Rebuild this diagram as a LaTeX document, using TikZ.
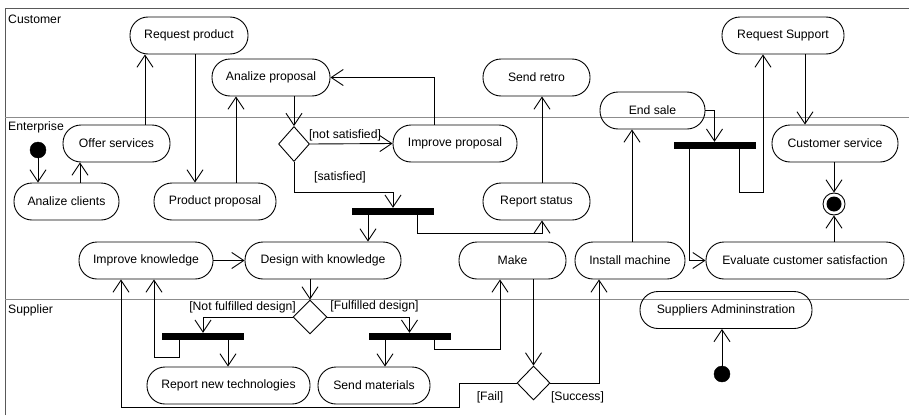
\documentclass[tikz,border=0pt]{standalone}
\usepackage{fontspec}
\setmainfont{Liberation Sans}
\usetikzlibrary{arrows.meta,shapes.geometric}

\tikzset{
  act/.style={draw, line width=0.9pt, rounded corners=18pt, minimum height=37pt,
              inner sep=0pt, font=\fontsize{12.2}{14}\selectfont},
  bar/.style={fill=black, inner sep=0pt, minimum width=82pt, minimum height=7pt},
  decision/.style={draw, diamond, line width=0.9pt, inner sep=0pt},
  startnode/.style={circle, fill=black, draw=black, inner sep=0pt, minimum size=16pt},
  guard/.style={inner sep=0pt, font=\fontsize{12.2}{14}\selectfont},
  lanename/.style={anchor=west, inner sep=0pt, font=\fontsize{12.2}{14}\selectfont},
  arr/.style={line width=0.9pt, -{Straight Barb[length=12pt,width=16pt,line width=0.9pt]}},
  flow/.style={line width=0.9pt},
  frameline/.style={draw=black!65, line width=1pt},
  laneline/.style={draw=black!45, line width=1pt}
}

\begin{document}
\begin{tikzpicture}[x=1pt, y=-1pt]
\useasboundingbox (0,0) rectangle (909,415);

% swimlane frame
\draw[frameline] (5,415) -- (5,8) -- (909,8);
\draw[laneline] (5,117) -- (909,117);
\draw[laneline] (5,299) -- (909,299);
\node[lanename] (lcust) at (8,19) {Customer};
\node[lanename] (lent) at (8,127) {Enterprise};
\node[lanename] (lsup) at (8,310) {Supplier};

% Customer lane
\node[act, minimum width=118pt] (reqprod) at (189,35.5) {Request product};
\node[act, minimum width=118pt] (anaprop) at (271,77.5) {Analize proposal};
\node[act, minimum width=107pt] (sendretro) at (536.5,77.5) {Send retro};
\node[act, minimum width=122pt] (reqsup) at (783,35.5) {Request Support};
\node[act, minimum width=105pt] (endsale) at (652.5,110.5) {End sale};

% Enterprise lane
\node[startnode] (init1) at (38,150) {};
\node[act, minimum width=107pt] (offer) at (116.5,143.5) {Offer services};
\node[decision, minimum width=31pt, minimum height=35pt] (d1) at (294,144) {};
\node[act, minimum width=124pt] (improp) at (455,143.5) {Improve proposal};
\node[act, minimum width=126pt] (custserv) at (835,143.5) {Customer service};
\node[act, minimum width=105pt] (anaclients) at (66.5,201.5) {Analize clients};
\node[act, minimum width=122pt] (prodprop) at (215,201.5) {Product proposal};
\node[bar] (b1) at (393,211.5) {};
\node[act, minimum width=107pt] (repstat) at (536.5,201.5) {Report status};
\node[bar] (b2) at (714.5,145.5) {};
\node[circle, draw, line width=0.9pt, inner sep=0pt, minimum size=22pt] (fin) at (834,204) {};
\fill (fin.center) circle (7.5pt);
\node[act, minimum width=134pt] (impknow) at (146,260.5) {Improve knowledge};
\node[act, minimum width=156pt] (design) at (323,260.5) {Design with knowledge};
\node[act, minimum width=107pt] (make) at (512.5,260.5) {Make};
\node[act, minimum width=110pt] (install) at (630,260.5) {Install machine};
\node[act, minimum width=198pt] (evaluate) at (805,260.5) {Evaluate customer satisfaction};

% Supplier lane
\node[act, minimum width=172pt] (supadmin) at (726,310) {Suppliers Admininstration};
\node[startnode] (init2) at (722,374) {};
\node[decision, minimum width=34pt, minimum height=34pt] (d2) at (310,317) {};
\node[bar] (b3) at (203,336.5) {};
\node[bar] (b4) at (409.5,336.5) {};
\node[decision, minimum width=33pt, minimum height=34pt] (d3) at (533.5,383) {};
\node[act, minimum width=163pt] (repnew) at (228.5,385.5) {Report new technologies};
\node[act, minimum width=112pt] (sendmat) at (374,385.5) {Send materials};

% guards
\node[guard] (gns) at (345,135) {[not satisfied]};
\node[guard] (gs) at (340,177) {[satisfied]};
\node[guard] (gnf) at (242.5,307) {[Not fulfilled design]};
\node[guard] (gf) at (374.5,306) {[Fulfilled design]};
\node[guard] (gfail) at (490,397) {[Fail]};
\node[guard] (gsucc) at (577.5,397) {[Success]};

% control flows
\draw[arr] (init1) -- (anaclients.north -| init1);
\draw[arr] (anaclients.north -| 80,0) -- (offer.south -| 80,0);
\draw[arr] (offer.north -| 145,0) -- (reqprod.south -| 145,0);
\draw[arr] (reqprod.south -| 195,0) -- (prodprop.north -| 195,0);
\draw[arr] (prodprop.north -| 236,0) -- (anaprop.south -| 236,0);
\draw[arr] (anaprop.south -| d1) -- (d1.north);
\draw[arr] (d1.east) -- (improp.west);
\draw[arr] (improp.north -| 434,0) |- (anaprop.east);
\draw[arr] (d1.south) -- (d1.south |- 0,192) -| (b1.north);
\draw[arr] (b1.south -| 368,0) -- (design.north -| 368,0);
\draw[arr] (b1.south -| 417,0) -- (417,233) -| (repstat.south -| 542,0);
\draw[arr] (repstat.north -| 542,0) -- (sendretro.south -| 542,0);
\draw[arr] (impknow.east) -- (design.west);
\draw[arr] (design.south -| d2) -- (d2.north);
\draw[arr] (d2.west) -| (b3.north);
\draw[arr] (d2.east) -| (b4.north);
\draw[arr] (b3.south -| 179,0) -- (179,357) -| (impknow.south -| 154,0);
\draw[arr] (b3.south -| 228,0) -- (repnew.north -| 228,0);
\draw[arr] (b4.south -| 385,0) -- (sendmat.north -| 385,0);
\draw[arr] (b4.south -| 434,0) -- (434,349) -| (make.south -| 500,0);
\draw[arr] (make.south -| d3) -- (d3.north);
\draw[arr] (d3.west) -| (459,407) -| (impknow.south -| 121,0);
\draw[arr] (d3.east) -| (install.south -| 599,0);
\draw[arr] (install.north -| 632,0) -- (endsale.south -| 632,0);
\draw[arr] (endsale.east) -| (b2.north);
\draw[arr] (b2.south -| 689,0) |- (evaluate.west);
\draw[arr] (b2.south -| 739,0) -- (739,192) -| (reqsup.south -| 763,0);
\draw[arr] (reqsup.south -| 805,0) -- (custserv.north -| 805,0);
\draw[arr] (custserv.south -| fin) -- (fin.north);
\draw[arr] (evaluate.north -| fin) -- (fin.south);
\draw[arr] (init2) -- (supadmin.south -| init2);

\end{tikzpicture}
\end{document}
